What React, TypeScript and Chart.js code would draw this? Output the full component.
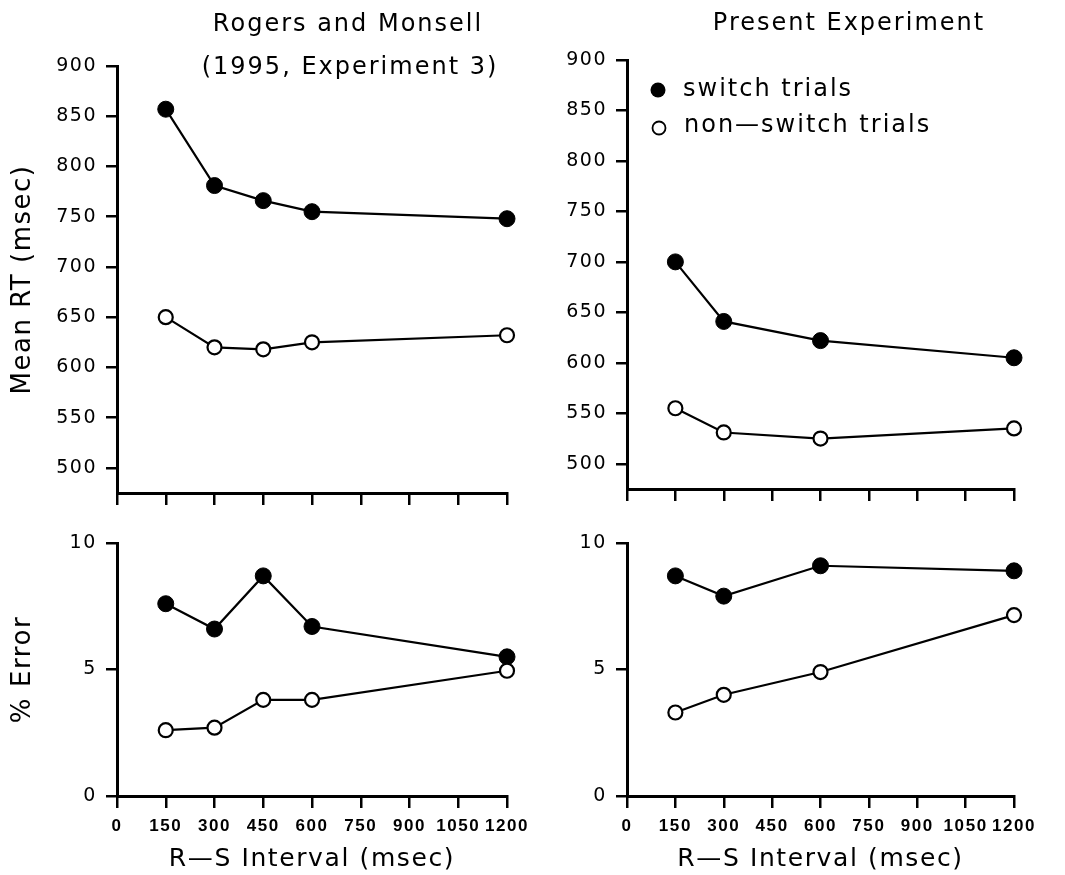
import React, { useEffect, useRef } from "react";
import { Chart, registerables } from "chart.js";
Chart.register(...registerables);

const FONT = "'DejaVu Sans', sans-serif";
const TICK_FONT = "'Liberation Sans', sans-serif";

// ---- data ----
const xTickValues = [0, 150, 300, 450, 600, 750, 900, 1050, 1200];
const rtTickValues = [500, 550, 600, 650, 700, 750, 800, 850, 900];
const errTickValues = [0, 5, 10];

const rmIntervals = [150, 300, 450, 600, 1200];
const rmSwitchRT = [857, 781, 766, 755, 748];
const rmNonSwitchRT = [650, 620, 618, 625, 632];
const rmSwitchErr = [7.6, 6.6, 8.7, 6.7, 5.5];
const rmNonSwitchErr = [2.6, 2.7, 3.8, 3.8, 4.95];

const peIntervals = [150, 300, 600, 1200];
const peSwitchRT = [700, 641, 622, 605];
const peNonSwitchRT = [555, 531, 525, 535];
const peSwitchErr = [8.7, 7.9, 9.1, 8.9];
const peNonSwitchErr = [3.3, 4.0, 4.9, 7.15];

const seriesLabels = ["switch trials", "non\u2014switch trials"];
const leftTitle = ["Rogers and Monsell", "(1995, Experiment 3)"];
const rightTitle = "Present Experiment";
const rtAxisTitle = "Mean RT (msec)";
const errAxisTitle = "% Error";
const xAxisTitle = "R\u2014S Interval (msec)";

type TextItem = { text: string; dx: number; dy: number; size: number; spacing: number };
type Panel = {
  key: string;
  left: number; top: number; width: number; height: number;
  padding: { left: number; top: number; right: number; bottom: number };
  yWidth: number; xHeight: number;
  yMin: number; yMax: number; yTicks: number[];
  yTitle?: string;
  xTitle?: string; showXLabels: boolean;
  xs: number[]; sw: number[]; ns: number[];
  spacing: number;
  texts: TextItem[];
  legend: boolean;
};

const panelPlugin = {
  id: "panelText",
  beforeUpdate(chart: any, _a: any, opts: any) {
    chart.ctx.letterSpacing = opts.spacing + "px";
  },
  beforeLayout(chart: any, _a: any, opts: any) {
    chart.ctx.letterSpacing = opts.spacing + "px";
  },
  beforeDraw(chart: any, _a: any, opts: any) {
    chart.ctx.letterSpacing = opts.spacing + "px";
  },
  afterDraw(chart: any, _a: any, opts: any) {
    const { ctx, chartArea } = chart;
    ctx.save();
    ctx.fillStyle = "#000";
    ctx.textBaseline = "alphabetic";
    for (const t of (opts.texts || []) as TextItem[]) {
      ctx.letterSpacing = t.spacing + "px";
      ctx.font = `${t.size}px ${FONT}`;
      ctx.textAlign = "center";
      ctx.fillText(t.text, chartArea.left + t.dx, chartArea.top + t.dy);
    }
    if (opts.legend) {
      // filled marker
      ctx.beginPath();
      ctx.arc(chartArea.left + 31, chartArea.top + 30, 7.5, 0, Math.PI * 2);
      ctx.fillStyle = "#000";
      ctx.fill();
      // open marker
      ctx.beginPath();
      ctx.arc(chartArea.left + 32, chartArea.top + 68, 6.5, 0, Math.PI * 2);
      ctx.fillStyle = "#fff";
      ctx.fill();
      ctx.lineWidth = 1.8;
      ctx.strokeStyle = "#000";
      ctx.stroke();
      ctx.fillStyle = "#000";
      ctx.letterSpacing = "2px";
      ctx.font = `24px ${FONT}`;
      ctx.textAlign = "left";
      ctx.fillText(seriesLabels[0], chartArea.left + 56, chartArea.top + 36);
      ctx.fillText(seriesLabels[1], chartArea.left + 57, chartArea.top + 72);
    }
    ctx.restore();
  },
};

const panels: Panel[] = [
  {
    key: "tl", left: 0, top: 0, width: 540, height: 520,
    padding: { left: 0, top: 66, right: 33, bottom: 12 },
    yWidth: 117, xHeight: 15,
    yMin: 475, yMax: 900, yTicks: rtTickValues, yTitle: rtAxisTitle,
    showXLabels: false,
    xs: rmIntervals, sw: rmSwitchRT, ns: rmNonSwitchRT,
    spacing: 1.5,
    texts: [
      { text: leftTitle[0], dx: 231, dy: -35, size: 24, spacing: 2 },
      { text: leftTitle[1], dx: 233, dy: 8, size: 24, spacing: 2 },
    ],
    legend: false,
  },
  {
    key: "tr", left: 520, top: 0, width: 545, height: 520,
    padding: { left: 0, top: 60, right: 51, bottom: 16 },
    yWidth: 107, xHeight: 15,
    yMin: 475, yMax: 900, yTicks: rtTickValues,
    showXLabels: false,
    xs: peIntervals, sw: peSwitchRT, ns: peNonSwitchRT,
    spacing: 1.5,
    texts: [{ text: rightTitle, dx: 222, dy: -30, size: 24, spacing: 2 }],
    legend: true,
  },
  {
    key: "bl", left: 0, top: 500, width: 540, height: 375,
    padding: { left: 0, top: 43, right: 33, bottom: 0 },
    yWidth: 117, xHeight: 79,
    yMin: 0, yMax: 10, yTicks: errTickValues, yTitle: errAxisTitle,
    xTitle: xAxisTitle, showXLabels: true,
    xs: rmIntervals, sw: rmSwitchErr, ns: rmNonSwitchErr,
    spacing: 1.6,
    texts: [],
    legend: false,
  },
  {
    key: "br", left: 520, top: 500, width: 545, height: 375,
    padding: { left: 0, top: 43, right: 51, bottom: 0 },
    yWidth: 107, xHeight: 79,
    yMin: 0, yMax: 10, yTicks: errTickValues,
    xTitle: xAxisTitle, showXLabels: true,
    xs: peIntervals, sw: peSwitchErr, ns: peNonSwitchErr,
    spacing: 1.6,
    texts: [],
    legend: false,
  },
];

function PanelChart({ p }: { p: Panel }) {
  const ref = useRef<HTMLCanvasElement>(null);
  useEffect(() => {
    const chart = new Chart(ref.current as HTMLCanvasElement, {
      type: "line",
      data: {
        datasets: [
          {
            label: seriesLabels[0],
            data: p.xs.map((x, i) => ({ x, y: p.sw[i] })),
            borderColor: "#000",
            borderWidth: 2.2,
            pointRadius: 8,
            pointBorderWidth: 1,
            pointBackgroundColor: "#000",
            pointBorderColor: "#000",
            tension: 0,
            clip: false as any,
            order: 1,
            fill: false,
          },
          {
            label: seriesLabels[1],
            data: p.xs.map((x, i) => ({ x, y: p.ns[i] })),
            borderColor: "#000",
            borderWidth: 2.2,
            pointRadius: 7,
            pointBorderWidth: 2.2,
            pointBackgroundColor: "#fff",
            pointBorderColor: "#000",
            tension: 0,
            clip: false as any,
            order: 0,
            fill: false,
          },
        ],
      },
      options: {
        responsive: false,
        animation: false,
        devicePixelRatio: 1,
        layout: { padding: p.padding },
        plugins: {
          legend: { display: false },
          tooltip: { enabled: false },
          panelText: { spacing: p.spacing, texts: p.texts, legend: p.legend },
        } as any,
        scales: {
          x: {
            type: "linear",
            min: 0,
            max: 1200,
            afterBuildTicks: (s: any) => {
              s.ticks = xTickValues.map((v) => ({ value: v }));
            },
            afterFit: (s: any) => {
              s.height = p.xHeight;
              s.paddingLeft = 0;
              s.paddingRight = 0;
            },
            grid: {
              display: true,
              drawOnChartArea: false,
              drawTicks: true,
              tickLength: 12,
              lineWidth: 2.5,
              color: "#000",
            },
            border: { display: true, width: 3, color: "#000" },
            ticks: {
              display: p.showXLabels,
              autoSkip: false,
              maxRotation: 0,
              padding: 8,
              color: "#000",
              font: { family: TICK_FONT, size: 17, weight: "bold" },
              callback: (v: any) => String(v),
            },
            title: {
              display: !!p.xTitle,
              text: p.xTitle || "",
              color: "#000",
              font: { family: FONT, size: 25 },
              padding: { top: 0, bottom: 1 },
            },
          },
          y: {
            type: "linear",
            min: p.yMin,
            max: p.yMax,
            afterBuildTicks: (s: any) => {
              s.ticks = p.yTicks.map((v) => ({ value: v }));
            },
            afterFit: (s: any) => {
              s.width = p.yWidth;
              s.paddingTop = 0;
              s.paddingBottom = 0;
            },
            grid: {
              display: true,
              drawOnChartArea: false,
              drawTicks: true,
              tickLength: 11,
              lineWidth: 2.5,
              color: "#000",
            },
            border: { display: true, width: 3, color: "#000" },
            ticks: {
              padding: 9,
              color: "#000",
              font: { family: FONT, size: 19 },
              callback: (v: any) => String(v),
            },
            title: {
              display: !!p.yTitle,
              text: p.yTitle || "",
              color: "#000",
              font: { family: FONT, size: 26 },
              padding: { top: 8, bottom: 0 },
            },
          },
        },
      } as any,
      plugins: [panelPlugin as any],
    });
    return () => chart.destroy();
  }, []);
  return (
    <canvas
      ref={ref}
      width={p.width}
      height={p.height}
      style={{ position: "absolute", left: p.left, top: p.top, width: p.width, height: p.height, display: "block" }}
    />
  );
}

export default function App() {
  return (
    <div style={{ position: "absolute", left: 0, top: 0, width: 1065, height: 875, background: "#fff" }}>
      {panels.map((p) => (
        <PanelChart key={p.key} p={p} />
      ))}
    </div>
  );
}
